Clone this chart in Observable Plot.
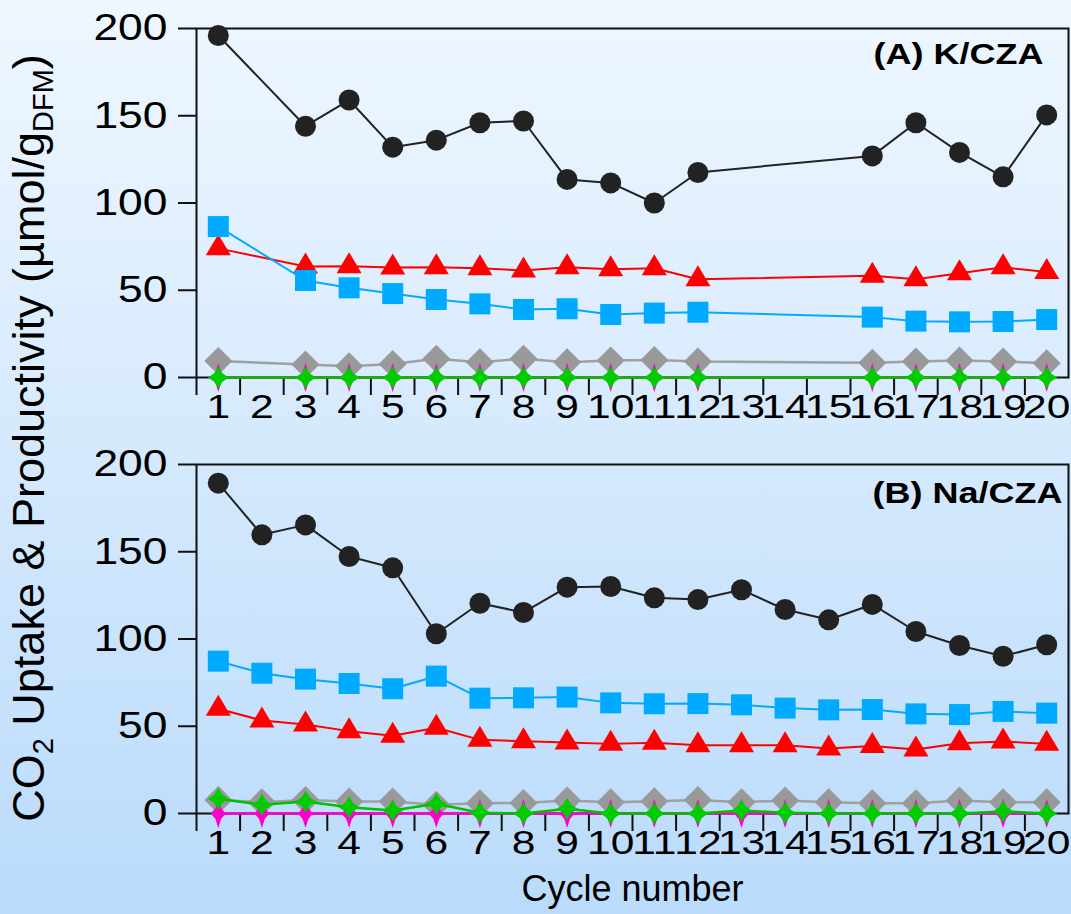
<!DOCTYPE html>
<html>
<head>
<meta charset="utf-8">
<script src="https://cdn.jsdelivr.net/npm/d3@7"></script>
<script src="https://cdn.jsdelivr.net/npm/@observablehq/plot@0.6"></script>
<style>
  html, body { margin: 0; padding: 0; }
  body {
    width: 1071px; height: 914px; overflow: hidden;
    background: linear-gradient(#eff7ff, #badbfb);
    font-family: "Liberation Sans", Arial, Helvetica, sans-serif;
  }
  #chart { position: relative; width: 1071px; height: 914px; }
  #chart svg { position: absolute; left: 0; }
</style>
</head>
<body>
<div id="chart"></div>
<script>
// ---- data -------------------------------------------------------------
const cycleTicks = d3.range(1, 21);                 // x tick labels 1..20
const cycleBounds = d3.range(0.5, 20, 1);          // tick marks between cycles
const yTicks = [0, 50, 100, 150, 200];

// (A) K/CZA — cycles 2, 13, 14, 15 were not measured
const kCycles  = [1, 3, 4, 5, 6, 7, 8, 9, 10, 11, 12, 16, 17, 18, 19, 20];
const kBlack   = [196, 144, 159, 132, 136, 146, 147, 113.5, 111.5, 100, 117.5, 127, 146, 129, 115, 150.5];
const kBlue    = [86.5, 55.6, 51.4, 48.1, 44.7, 42.2, 39, 39.4, 36.1, 36.9, 37.4, 34.6, 32.3, 31.9, 32.1, 33.2];
const kRed     = [74, 63.6, 63.8, 63, 63.2, 62.6, 61.3, 63.2, 62.1, 62.6, 56.3, 58.3, 56.3, 59.8, 63.2, 60.4];
const kGrey    = [9.4, 7.4, 6.5, 7.8, 10.7, 8.8, 10.7, 8.8, 9.7, 10.1, 9.2, 8.4, 9.2, 9.7, 9.2, 8.2];
const kGreen   = [0, 0, 0, 0, 0, 0, 0, 0, 0, 0, 0, 0, 0, 0, 0, 0];
const kMagenta = [0, 0, 0, 0, 0, 0, 0, 0, 0, 0, 0, 0, 0, 0, 0, 0];

// (B) Na/CZA — all 20 cycles
const naCycles  = d3.range(1, 21);
const naBlack   = [189.3, 159.7, 165.4, 147.3, 140.8, 103, 120.5, 115.2, 129.7, 130.1, 123.6, 122.6, 128.2, 116.9, 111, 119.8, 104.3, 96.3, 90.1, 96.7];
const naBlue    = [87.3, 80.4, 77, 74.5, 71.5, 78.7, 66.1, 66.3, 66.7, 63.4, 62.9, 63, 62.3, 60.4, 59.4, 59.6, 57.1, 56.7, 58.5, 57.5];
const naRed     = [60, 53.3, 51, 47.2, 44.5, 49.1, 42.2, 41.4, 40.7, 39.9, 40.5, 39.1, 39.1, 39.1, 37.2, 38.7, 36.7, 40.3, 41.3, 39.9];
const naGrey    = [7.8, 6.5, 7.8, 6.9, 6.9, 5, 5.9, 6, 7.4, 6.5, 7, 7.8, 6.5, 7.4, 6.5, 5.9, 5.9, 7.4, 6.5, 6.5];
const naGreen   = [8.4, 5, 6.9, 3.6, 1.7, 5.6, 0.4, 0, 2.7, 0, 0, 0, 1.7, 0.4, 0, 0, 0, 0, 1.2, 0];
const naMagenta = [0, 0, 0, 0, 0, 0, 0, 0, 0, 0, 0, 0, 0, 0, 0, 0, 0, 0, 0, 0];

// ---- marker shapes ------------------------------------------------------
const squareSym = {draw(c) { c.moveTo(-10.5, -10.5); c.lineTo(10.5, -10.5); c.lineTo(10.5, 10.5); c.lineTo(-10.5, 10.5); c.closePath(); }};
const triangleSym = {draw(c) { c.moveTo(0, -14); c.lineTo(12.5, 7); c.lineTo(-12.5, 7); c.closePath(); }};
const diamondSym = {draw(c) { c.moveTo(0, -14); c.lineTo(14, 0); c.lineTo(0, 14); c.lineTo(-14, 0); c.closePath(); }};
function star4(hw, hh, k) {
  return {draw(c) {
    c.moveTo(0, -hh);
    c.lineTo(hw * k, -hh * k);
    c.lineTo(hw, 0);
    c.lineTo(hw * k, hh * k);
    c.lineTo(0, hh);
    c.lineTo(-hw * k, hh * k);
    c.lineTo(-hw, 0);
    c.lineTo(-hw * k, -hh * k);
    c.closePath();
  }};
}
const greenStar = star4(10.5, 11, 0.38);
const magentaStar = star4(7.5, 14.5, 0.38);

// drawing order and style of each series
const seriesStyle = [
  {key: "black",   color: "#222222", line: "#222222", width: 2,   symbol: "circle", r: 10.5},
  {key: "red",     color: "#ff0000", line: "#ff0000", width: 2,   symbol: triangleSym, r: 9},
  {key: "blue",    color: "#00aaff", line: "#00aaff", width: 2,   symbol: squareSym, r: 9},
  {key: "grey",    color: "#999999", line: "#a0a0a0", width: 2.5, symbol: diamondSym, r: 9},
  {key: "magenta", color: "#ff00cc", line: "#ff00cc", width: 2.5, symbol: magentaStar, r: 9},
  {key: "green",   color: "#00cc00", line: "#00c000", width: 2.5, symbol: greenStar, r: 9}
];

function rows(cycles, values) {
  return cycles.map((c, i) => ({cycle: c, value: values[i]}));
}

const panelA = {
  label: "(A) K/CZA", labelDx: -25, labelDy: 14,
  series: {
    black: rows(kCycles, kBlack), blue: rows(kCycles, kBlue), red: rows(kCycles, kRed),
    grey: rows(kCycles, kGrey), green: rows(kCycles, kGreen), magenta: rows(kCycles, kMagenta)
  }
};
const panelB = {
  label: "(B) Na/CZA", labelDx: -6, labelDy: 17,
  series: {
    black: rows(naCycles, naBlack), blue: rows(naCycles, naBlue), red: rows(naCycles, naRed),
    grey: rows(naCycles, naGrey), green: rows(naCycles, naGreen), magenta: rows(naCycles, naMagenta)
  }
};

// widen text labels horizontally around their own anchors
function stretchNodes(nodes, s) {
  nodes.forEach(t => {
    const x = +t.getAttribute("x") || 0, y = +t.getAttribute("y") || 0;
    const tr = t.getAttribute("transform") || "";
    t.setAttribute("transform", `${tr} translate(${x},${y}) scale(${s},1) translate(${-x},${-y})`);
  });
}
function stretchText(svg, label, s) {
  stretchNodes(svg.querySelectorAll(`g[aria-label="${label}"] text`), s);
}

function panel(p, {height, marginBottom, xTitle}) {
  const marks = [
    Plot.frame({stroke: "#111", strokeWidth: 2}),
    Plot.axisY({ticks: yTicks, tickSize: 18, tickPadding: 11, tickFormat: d => d,
                fontSize: 37, strokeWidth: 2, stroke: "#111", label: null}),
    Plot.axisX({ticks: cycleBounds, tickSize: 18, tickFormat: () => "", strokeWidth: 2,
                stroke: "#111", label: null}),
    Plot.axisX({ticks: cycleTicks, tickSize: 0, tickPadding: 16, tickFormat: d => d,
                fontSize: 34, label: null})
  ];
  for (const s of seriesStyle) {
    const data = p.series[s.key];
    marks.push(Plot.line(data, {x: "cycle", y: "value", stroke: s.line, strokeWidth: s.width}));
    marks.push(Plot.dot(data, {x: "cycle", y: "value", fill: s.color, symbol: s.symbol, r: s.r}));
  }
  marks.push(Plot.text([p.label], {frameAnchor: "top-right", dx: p.labelDx, dy: p.labelDy,
                                   fontSize: 30, fontWeight: "bold", fill: "#000"}));
  if (xTitle) {
    marks.push(Plot.text([xTitle], {frameAnchor: "bottom", dy: 76, fontSize: 36,
                                    lineAnchor: "middle", fill: "#000"}));
  }
  const svg = Plot.plot({
    width: 1071, height,
    marginLeft: 196, marginRight: 3, marginTop: 28, marginBottom,
    style: {background: "transparent", fontFamily: '"Liberation Sans", Arial, sans-serif', color: "#000", overflow: "visible"},
    x: {type: "linear", domain: [0.5, 20.5]},
    y: {domain: [0, 200]},
    marks
  });
  stretchText(svg, "y-axis tick label", 1.2);
  stretchText(svg, "x-axis tick label", 1.25);
  stretchNodes([...svg.querySelectorAll("text")].filter(t => t.textContent === p.label), 1.2);
  return svg;
}

const chart = document.getElementById("chart");
const svgA = panel(panelA, {height: 436, marginBottom: 59});
svgA.style.top = "0px";
chart.appendChild(svgA);
const svgB = panel(panelB, {height: 478, marginBottom: 101, xTitle: "Cycle number"});
svgB.style.top = "436px";
chart.appendChild(svgB);

// shared y-axis title with subscripts
const ns = "http://www.w3.org/2000/svg";
const ySvg = document.createElementNS(ns, "svg");
ySvg.setAttribute("width", 80);
ySvg.setAttribute("height", 914);
ySvg.style.top = "0px";
ySvg.style.pointerEvents = "none";
const yTitle = d3.select(ySvg).append("text")
  .attr("transform", "translate(44,438) rotate(-90)")
  .attr("text-anchor", "middle")
  .attr("font-family", '"Liberation Sans", Arial, sans-serif')
  .attr("font-size", 45)
  .attr("fill", "#000");
yTitle.append("tspan").text("CO");
yTitle.append("tspan").attr("font-size", 29).attr("dy", 9).text("2");
yTitle.append("tspan").attr("dy", -9).text(" Uptake & Productivity (µmol/g");
yTitle.append("tspan").attr("font-size", 29).attr("dy", 9).text("DFM");
yTitle.append("tspan").attr("dy", -9).text(")");
chart.appendChild(ySvg);
</script>
</body>
</html>
